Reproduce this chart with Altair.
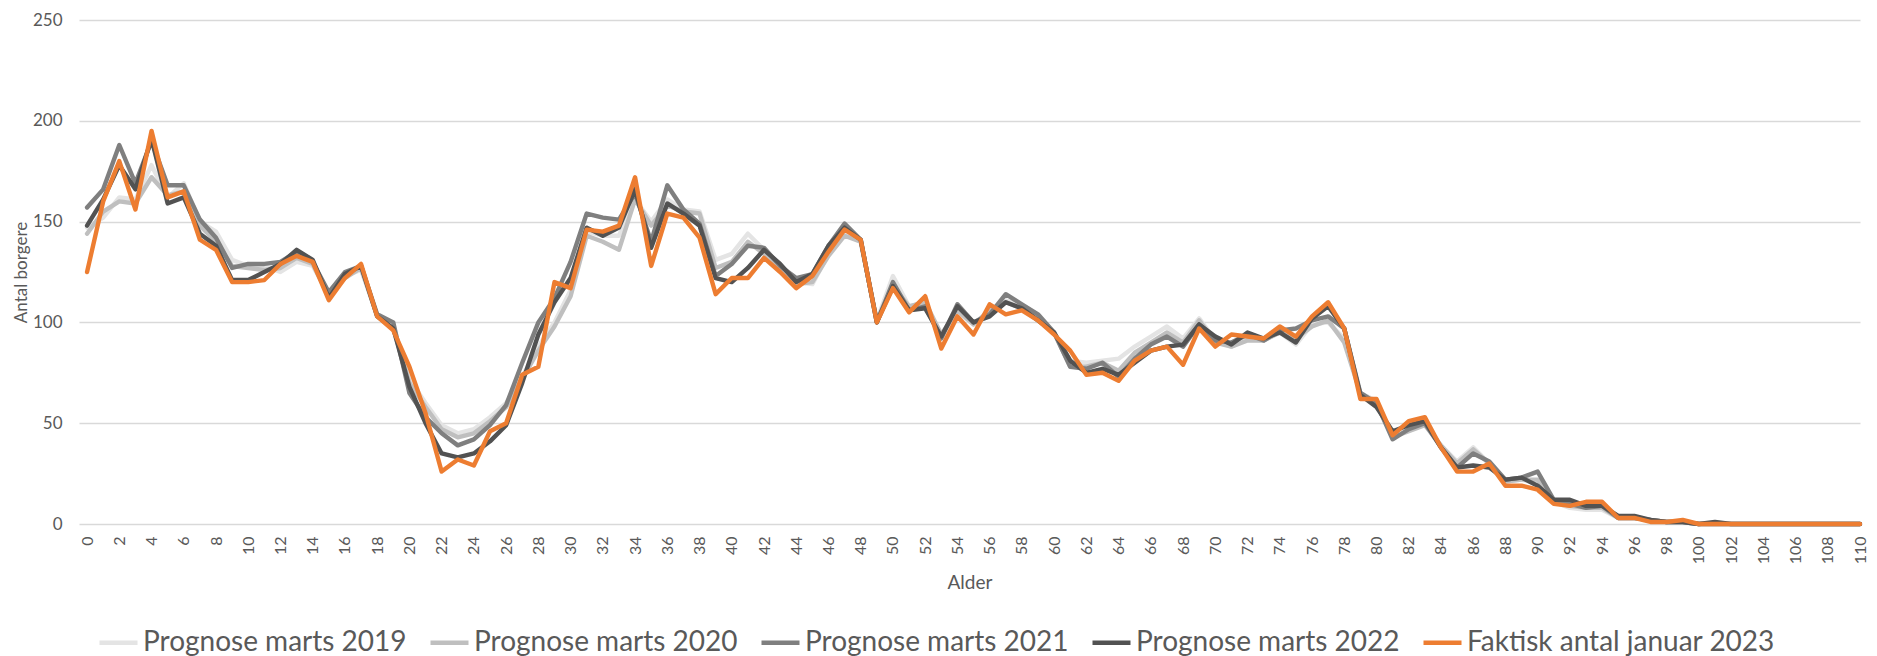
import altair as alt
import pandas as pd

ages = list(range(111))

names = ["Prognose marts 2019", "Prognose marts 2020", "Prognose marts 2021",
         "Prognose marts 2022", "Faktisk antal januar 2023"]
colors = ["#e4e4e4", "#bfbfbf", "#7f7f7f", "#525252", "#ed7d31"]

tail0 = [0] * 10

p2019 = [147, 152, 162, 161, 178, 162, 169, 150, 145, 131, 128, 128, 125, 130, 128, 114, 123, 126, 104, 98,
         72, 60, 49, 45, 47, 53, 60, 73, 88, 100, 116, 145, 143, 143, 161, 150, 161, 156, 155, 131,
         134, 144, 136, 128, 120, 119, 134, 145, 140, 101, 123, 108, 110, 94, 105, 99, 106, 111, 108, 103,
         95, 81, 80, 81, 82, 88, 93, 98, 92, 102, 91, 88, 92, 91, 95, 89, 99, 100, 92, 65,
         61, 43, 47, 50, 39, 31, 38, 30, 21, 22, 20, 11, 8, 7, 7, 3, 3, 2, 1, 1,
         0] + tail0
p2020 = [144, 155, 160, 159, 172, 163, 165, 148, 140, 128, 127, 126, 127, 132, 129, 113, 122, 127, 103, 97,
         70, 58, 47, 43, 45, 51, 58, 72, 86, 98, 113, 143, 140, 136, 161, 148, 158, 155, 154, 127,
         130, 140, 134, 127, 119, 120, 133, 143, 140, 101, 118, 108, 110, 94, 106, 99, 106, 110, 107, 102,
         95, 78, 78, 80, 76, 85, 90, 95, 90, 101, 90, 88, 91, 91, 95, 92, 98, 101, 90, 65,
         60, 43, 46, 49, 39, 30, 37, 30, 21, 22, 22, 11, 9, 8, 8, 3, 3, 2, 1, 1,
         0] + tail0
p2021 = [157, 166, 188, 169, 190, 168, 168, 151, 142, 127, 129, 129, 130, 135, 130, 115, 125, 128, 104, 100,
         65, 53, 45, 39, 42, 49, 59, 80, 100, 112, 130, 154, 152, 151, 164, 140, 168, 156, 149, 123,
         129, 138, 137, 128, 122, 124, 138, 149, 141, 100, 120, 106, 108, 92, 109, 100, 104, 114, 109, 104,
         95, 78, 77, 80, 73, 82, 89, 93, 88, 99, 91, 90, 94, 91, 96, 97, 101, 103, 97, 65,
         60, 42, 47, 50, 38, 28, 35, 31, 22, 23, 26, 12, 10, 8, 9, 3, 3, 2, 1, 1,
         0] + tail0
p2022 = [148, 161, 178, 166, 191, 159, 162, 144, 138, 121, 121, 125, 129, 136, 131, 112, 124, 128, 103, 97,
         68, 50, 35, 33, 35, 41, 49, 70, 94, 110, 122, 147, 143, 147, 166, 137, 159, 154, 148, 122,
         120, 127, 136, 129, 120, 124, 138, 147, 141, 100, 118, 106, 107, 93, 108, 100, 103, 110, 107, 101,
         95, 81, 75, 77, 74, 80, 86, 88, 89, 99, 93, 89, 95, 92, 95, 90, 102, 108, 97, 64,
         58, 46, 49, 51, 38, 28, 29, 28, 22, 23, 19, 12, 12, 9, 9, 4, 4, 2, 1, 1,
         0, 1] + [0] * 9
faktisk = [125, 160, 180, 156, 195, 162, 165, 141, 136, 120, 120, 121, 129, 133, 130, 111, 122, 129, 103, 96,
           78, 55, 26, 32, 29, 46, 50, 74, 78, 120, 117, 146, 145, 148, 172, 128, 154, 152, 142, 114,
           122, 122, 132, 125, 117, 123, 135, 146, 141, 100, 117, 105, 113, 87, 103, 94, 109, 104, 106, 101,
           94, 86, 74, 75, 71, 81, 86, 88, 79, 97, 88, 94, 93, 92, 98, 93, 103, 110, 97, 62,
           62, 44, 51, 53, 38, 26, 26, 30, 19, 19, 17, 10, 9, 11, 11, 3, 3, 1, 1, 2,
           0] + tail0

series = [p2019, p2020, p2021, p2022, faktisk]
rows = []
for name, vals in zip(names, series):
    for a, v in zip(ages, vals):
        rows.append({"Serie": name, "Alder": a, "Antal": v})
df = pd.DataFrame(rows)

FONT = "Lato"
GREY = "#595959"

chart = alt.Chart(df).mark_line(strokeWidth=4.4, strokeJoin="round", strokeCap="round").encode(
    x=alt.X("Alder:Q",
            scale=alt.Scale(domain=[-0.5, 110], nice=False, zero=False),
            axis=alt.Axis(values=list(range(0, 111, 2)), labelAngle=270, grid=False, ticks=False,
                          domain=False, labelPadding=12, labelFontSize=16, labelColor=GREY,
                          labelFont=FONT, labelFlush=False, labelOverlap=False,
                          title="Alder", titleFontSize=19, titleFont=FONT, titleFontWeight="normal",
                          titleColor=GREY, titleY=58, titleBaseline="middle")),
    y=alt.Y("Antal:Q",
            scale=alt.Scale(domain=[0, 250], nice=False),
            axis=alt.Axis(values=[0, 50, 100, 150, 200, 250], grid=True, gridColor="#d9d9d9",
                          gridWidth=1.3, domain=False, ticks=False, labelPadding=17,
                          labelFontSize=17, labelColor=GREY, labelFont=FONT,
                          title="Antal borgere", titleFontSize=17, titleFont=FONT,
                          titleFontWeight="normal", titleColor=GREY, titleX=-58, titleY=252,
                          titleBaseline="middle", titleAlign="center")),
    color=alt.Color("Serie:N", sort=names,
                    scale=alt.Scale(domain=names, range=colors),
                    legend=alt.Legend(orient="none", legendX=18, legendY=601, direction="horizontal",
                                      symbolType="stroke", symbolSize=1444, symbolStrokeWidth=4.5,
                                      labelFontSize=28, labelFont=FONT, labelColor=GREY,
                                      columnPadding=14, title=None, padding=0, labelOffset=3,
                                      labelLimit=0)),
).properties(
    width=1781, height=504,
    autosize=alt.AutoSizeParams(type="none"),
    padding={"left": 71, "top": 12, "right": 9, "bottom": 132},
).configure_view(stroke=None)

chart.save("out.html", embed_options={"renderer": "svg", "actions": False})
